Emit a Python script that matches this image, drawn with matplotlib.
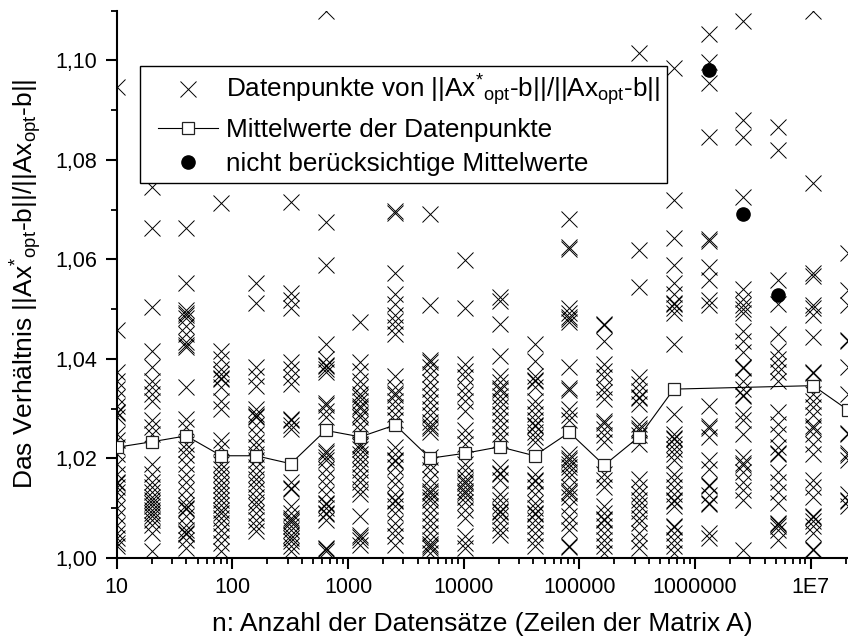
import matplotlib
matplotlib.use("Agg")
import matplotlib.pyplot as plt
from matplotlib.lines import Line2D
from matplotlib.legend_handler import HandlerLine2D
from matplotlib.ticker import FixedLocator, FuncFormatter, MultipleLocator, LogLocator, NullFormatter

plt.rcParams["font.family"] = ["Liberation Sans", "DejaVu Sans"]
plt.rcParams["mathtext.fontset"] = "custom"
plt.rcParams["mathtext.rm"] = "Liberation Sans"
plt.rcParams["mathtext.it"] = "Liberation Sans:italic"

# Anzahl der Datensaetze (Zeilen der Matrix A)
n_werte = [10, 20, 40, 80, 160, 320, 640, 1280, 2560, 5120, 10240, 20480,
           40960, 81920, 163840, 327680, 655360, 1310720, 2621440,
           5242880, 10485760, 20971520]

# einzelne Datenpunkte je n
p_10 = [1.0946, 1.0458, 1.0373, 1.0356, 1.0339, 1.0323, 1.0306, 1.0293, 1.0290,
        1.0283, 1.0249, 1.0236, 1.0223, 1.0209, 1.0189, 1.0169, 1.0153, 1.0150,
        1.0143, 1.0133, 1.0116, 1.0099, 1.0083, 1.0066, 1.0049, 1.0039, 1.0029, 1.0023]
p_20 = [1.0745, 1.0663, 1.0505, 1.0416, 1.0383, 1.0356, 1.0343, 1.0329, 1.0316,
        1.0276, 1.0263, 1.0249, 1.0189, 1.0169, 1.0153, 1.0143, 1.0133, 1.0123,
        1.0116, 1.0109, 1.0103, 1.0096, 1.0089, 1.0083, 1.0076, 1.0066, 1.0049, 1.0013]
p_40 = [1.0663, 1.0552, 1.0498, 1.0493, 1.0489, 1.0483, 1.0466, 1.0449, 1.0433,
        1.0428, 1.0424, 1.0343, 1.0279, 1.0263, 1.0229, 1.0219, 1.0206, 1.0189,
        1.0169, 1.0153, 1.0136, 1.0119, 1.0106, 1.0099, 1.0097, 1.0083, 1.0066,
        1.0056, 1.0049, 1.0047, 1.0036, 1.0019]
p_80 = [1.0713, 1.0416, 1.0399, 1.0379, 1.0369, 1.0361, 1.0359, 1.0343, 1.0316,
        1.0299, 1.0236, 1.0223, 1.0189, 1.0179, 1.0169, 1.0156, 1.0146, 1.0136,
        1.0126, 1.0116, 1.0106, 1.0096, 1.0089, 1.0079, 1.0069, 1.0056, 1.0043,
        1.0029, 1.0013]
p_160 = [1.0552, 1.0512, 1.0383, 1.0366, 1.0346, 1.0299, 1.0289, 1.0285, 1.0283,
         1.0266, 1.0249, 1.0233, 1.0223, 1.0209, 1.0196, 1.0183, 1.0169, 1.0159,
         1.0149, 1.0136, 1.0123, 1.0113, 1.0103, 1.0089, 1.0076, 1.0063, 1.0053]
p_320 = [1.0715, 1.0533, 1.0518, 1.0503, 1.0393, 1.0379, 1.0363, 1.0349, 1.0278,
         1.0276, 1.0266, 1.0259, 1.0153, 1.0141, 1.0138, 1.0103, 1.0089, 1.0079,
         1.0075, 1.0071, 1.0063, 1.0056, 1.0046, 1.0039, 1.0033, 1.0023, 1.0013]
p_640 = [1.1100, 1.0675, 1.0588, 1.0429, 1.0399, 1.0388, 1.0385, 1.0379, 1.0373,
         1.0311, 1.0307, 1.0296, 1.0283, 1.0214, 1.0211, 1.0203, 1.0196, 1.0179,
         1.0163, 1.0146, 1.0129, 1.0110, 1.0107, 1.0099, 1.0090, 1.0088, 1.0076,
         1.0020, 1.0018, 1.0013]
p_1280 = [1.0473, 1.0393, 1.0376, 1.0356, 1.0343, 1.0329, 1.0323, 1.0316, 1.0305,
          1.0301, 1.0289, 1.0283, 1.0269, 1.0256, 1.0228, 1.0224, 1.0219, 1.0209,
          1.0199, 1.0189, 1.0176, 1.0163, 1.0153, 1.0139, 1.0129, 1.0083, 1.0045,
          1.0042, 1.0036, 1.0026]
p_2560 = [1.0698, 1.0693, 1.0572, 1.0530, 1.0510, 1.0489, 1.0476, 1.0463, 1.0449,
          1.0366, 1.0343, 1.0331, 1.0327, 1.0316, 1.0303, 1.0289, 1.0276, 1.0223,
          1.0209, 1.0197, 1.0194, 1.0183, 1.0163, 1.0149, 1.0129, 1.0117, 1.0114,
          1.0103, 1.0089, 1.0069, 1.0056, 1.0043, 1.0026]
p_5120 = [1.0692, 1.0509, 1.0397, 1.0394, 1.0383, 1.0369, 1.0353, 1.0339, 1.0326,
          1.0313, 1.0299, 1.0286, 1.0273, 1.0264, 1.0261, 1.0253, 1.0203, 1.0189,
          1.0176, 1.0159, 1.0143, 1.0134, 1.0131, 1.0123, 1.0116, 1.0103, 1.0089,
          1.0076, 1.0063, 1.0049, 1.0036, 1.0027, 1.0024, 1.0019, 1.0009]
p_10240 = [1.0598, 1.0503, 1.0389, 1.0376, 1.0363, 1.0343, 1.0329, 1.0316, 1.0296,
           1.0256, 1.0243, 1.0229, 1.0189, 1.0176, 1.0163, 1.0154, 1.0151, 1.0143,
           1.0134, 1.0131, 1.0123, 1.0113, 1.0096, 1.0079, 1.0043, 1.0029, 1.0019]
p_20480 = [1.0524, 1.0516, 1.0469, 1.0406, 1.0366, 1.0353, 1.0341, 1.0338, 1.0326,
           1.0316, 1.0303, 1.0289, 1.0276, 1.0263, 1.0249, 1.0236, 1.0183, 1.0171,
           1.0168, 1.0156, 1.0129, 1.0116, 1.0103, 1.0094, 1.0091, 1.0083, 1.0069,
           1.0056, 1.0046]
p_40960 = [1.0429, 1.0396, 1.0366, 1.0357, 1.0355, 1.0343, 1.0316, 1.0303, 1.0289,
           1.0276, 1.0267, 1.0264, 1.0253, 1.0243, 1.0233, 1.0169, 1.0157, 1.0154,
           1.0143, 1.0129, 1.0109, 1.0099, 1.0090, 1.0088, 1.0076, 1.0063, 1.0049,
           1.0036, 1.0023]
p_81920 = [1.0682, 1.0624, 1.0620, 1.0503, 1.0493, 1.0485, 1.0481, 1.0473, 1.0383,
           1.0341, 1.0338, 1.0299, 1.0286, 1.0276, 1.0209, 1.0200, 1.0197, 1.0189,
           1.0183, 1.0173, 1.0163, 1.0143, 1.0134, 1.0131, 1.0123, 1.0103, 1.0083,
           1.0069, 1.0056, 1.0024, 1.0021]
p_163840 = [1.0470, 1.0467, 1.0436, 1.0389, 1.0376, 1.0363, 1.0343, 1.0333, 1.0319,
            1.0274, 1.0271, 1.0259, 1.0246, 1.0233, 1.0169, 1.0156, 1.0143, 1.0103,
            1.0089, 1.0077, 1.0075, 1.0063, 1.0049, 1.0036, 1.0023, 1.0009]
p_327680 = [1.1014, 1.0618, 1.0544, 1.0363, 1.0349, 1.0336, 1.0324, 1.0321, 1.0309,
            1.0269, 1.0260, 1.0257, 1.0246, 1.0229, 1.0159, 1.0143, 1.0129, 1.0116,
            1.0106, 1.0093, 1.0079, 1.0069, 1.0049, 1.0033, 1.0019]
p_655360 = [1.0984, 1.0719, 1.0642, 1.0588, 1.0552, 1.0530, 1.0513, 1.0510, 1.0503,
            1.0493, 1.0429, 1.0289, 1.0249, 1.0240, 1.0238, 1.0229, 1.0219, 1.0209,
            1.0196, 1.0169, 1.0156, 1.0143, 1.0129, 1.0117, 1.0115, 1.0103, 1.0064,
            1.0062, 1.0049, 1.0036, 1.0023, 1.0009]
p_1310720 = [1.1054, 1.0996, 1.0954, 1.0845, 1.0641, 1.0637, 1.0585, 1.0558, 1.0518,
             1.0509, 1.0306, 1.0264, 1.0261, 1.0243, 1.0196, 1.0179, 1.0147, 1.0144,
             1.0126, 1.0110, 1.0108, 1.0049, 1.0039]
p_2621440 = [1.1080, 1.0880, 1.0845, 1.0725, 1.0540, 1.0520, 1.0509, 1.0500, 1.0493,
             1.0456, 1.0436, 1.0413, 1.0384, 1.0381, 1.0356, 1.0339, 1.0327, 1.0325,
             1.0289, 1.0276, 1.0249, 1.0203, 1.0190, 1.0187, 1.0173, 1.0153, 1.0136,
             1.0116, 1.0016]
p_5242880 = [1.0866, 1.0819, 1.0558, 1.0510, 1.0449, 1.0416, 1.0399, 1.0386, 1.0373,
             1.0356, 1.0293, 1.0269, 1.0249, 1.0223, 1.0211, 1.0208, 1.0173, 1.0153,
             1.0133, 1.0109, 1.0070, 1.0067, 1.0063, 1.0056, 1.0036]
p_10485760 = [1.1100, 1.0753, 1.0572, 1.0566, 1.0508, 1.0503, 1.0489, 1.0443, 1.0374,
              1.0371, 1.0329, 1.0316, 1.0303, 1.0286, 1.0264, 1.0261, 1.0249, 1.0229,
              1.0209, 1.0156, 1.0143, 1.0123, 1.0084, 1.0082, 1.0073, 1.0063, 1.0049,
              1.0017, 1.0015]
p_20971520 = [1.0612, 1.0538, 1.0509, 1.0437, 1.0435, 1.0383, 1.0329, 1.0251, 1.0248,
              1.0210, 1.0207, 1.0196, 1.0129, 1.0117, 1.0115, 1.0103]

datenpunkte = [p_10, p_20, p_40, p_80, p_160, p_320, p_640, p_1280, p_2560, p_5120,
               p_10240, p_20480, p_40960, p_81920, p_163840, p_327680, p_655360,
               p_1310720, p_2621440, p_5242880, p_10485760, p_20971520]

# Mittelwerte (beruecksichtigt)
mittel_n = [10, 20, 40, 80, 160, 320, 640, 1280, 2560, 5120, 10240, 20480,
            40960, 81920, 163840, 327680, 655360, 10485760, 20971520]
mittel_werte = [1.0222, 1.0233, 1.0245, 1.0205, 1.0205, 1.0189, 1.0256, 1.0243,
                1.0267, 1.0200, 1.0210, 1.0223, 1.0205, 1.0252, 1.0186, 1.0243,
                1.0339, 1.0346, 1.0297]

# nicht beruecksichtigte Mittelwerte
ausgelassen_n = [1310720, 2621440, 5242880]
ausgelassen_werte = [1.0980, 1.0692, 1.0528]

fig = plt.figure(figsize=(8.48, 6.44), dpi=100)
ax = fig.add_axes([0.1376, 0.134, 0.8624, 0.8494])

for n, werte in zip(n_werte, datenpunkte):
    ax.plot([n] * len(werte), werte, linestyle="none", marker="x", ms=11,
            mew=0.7, color="black", zorder=2)

ax.plot(mittel_n, mittel_werte, color="black", lw=0.8, marker="s", ms=9,
        mfc="white", mec="#222222", mew=0.9, zorder=3)
ax.plot(ausgelassen_n, ausgelassen_werte, linestyle="none", marker="o", ms=9.5,
        color="black", zorder=4)

ax.set_xscale("log")
ax.set_xlim(10, 2.1e7)
ax.set_ylim(1.00, 1.11)

ax.xaxis.set_major_locator(FixedLocator([10, 100, 1000, 1e4, 1e5, 1e6, 1e7]))
ax.xaxis.set_major_formatter(FuncFormatter(lambda v, p: "1E7" if v >= 1e7 else f"{int(round(v))}"))
ax.xaxis.set_minor_locator(LogLocator(base=10, subs=range(2, 10)))
ax.xaxis.set_minor_formatter(NullFormatter())

ax.yaxis.set_major_locator(MultipleLocator(0.02))
ax.yaxis.set_minor_locator(MultipleLocator(0.01))
ax.yaxis.set_major_formatter(FuncFormatter(lambda v, p: f"{v:.2f}".replace(".", ",")))

for side in ["top", "right"]:
    ax.spines[side].set_visible(False)
for side in ["left", "bottom"]:
    ax.spines[side].set_linewidth(1.5)

ax.tick_params(which="major", direction="out", length=8, width=1.5, labelsize=15.5, pad=6)
ax.tick_params(which="minor", direction="out", length=4.5, width=1.3)

ax.set_xlabel("n: Anzahl der Datensätze (Zeilen der Matrix A)", fontsize=19, labelpad=10)
ax.set_ylabel("Das Verhältnis ||Ax$^{*}$$_{\\mathregular{opt}}$-b||/||Ax$_{\\mathregular{opt}}$-b||",
              fontsize=19, labelpad=8)

handles = [
    Line2D([], [], linestyle="none", marker="x", ms=11, mew=0.7, color="black"),
    Line2D([], [], color="black", lw=0.8, marker="s", ms=9, mfc="white", mec="#222222", mew=0.9),
    Line2D([], [], linestyle="none", marker="o", ms=9.5, color="black"),
]
labels = [
    "Datenpunkte von ||Ax$^{*}$$_{\\mathregular{opt}}$-b||/||Ax$_{\\mathregular{opt}}$-b||",
    "Mittelwerte der Datenpunkte",
    "nicht berücksichtige Mittelwerte",
]
leg = ax.legend(handles, labels, loc="upper left", bbox_to_anchor=(0.032, 0.899),
                fontsize=18.8, frameon=True, fancybox=False, framealpha=1,
                edgecolor="black", borderpad=0.25, labelspacing=0.38,
                handlelength=2.73, handletextpad=0.3, borderaxespad=0,
                handler_map={Line2D: HandlerLine2D(xpad=0.45)})
leg.get_frame().set_linewidth(1.0)

fig.savefig("out.png", dpi=100)
